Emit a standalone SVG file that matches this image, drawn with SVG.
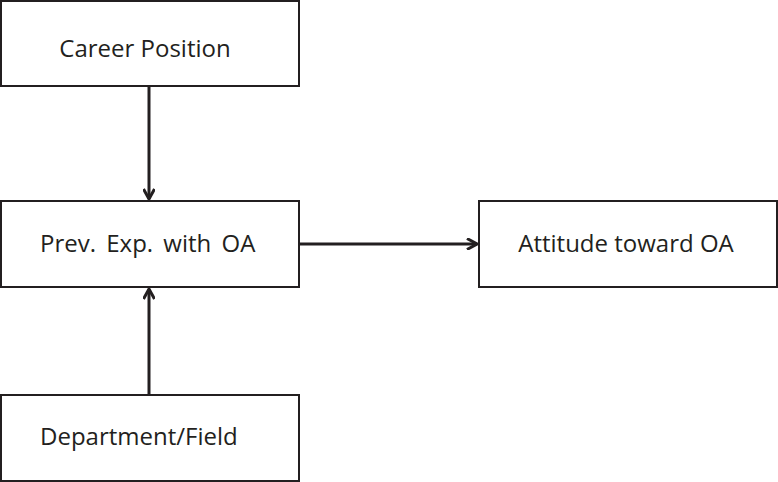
<svg xmlns="http://www.w3.org/2000/svg" width="778" height="482" viewBox="0 0 778 482">
<defs>
<style>
.box{fill:#fff;stroke:#231f20;stroke-width:2}
.t{font-family:"Open Sans","Liberation Sans",sans-serif;font-size:24px;fill:#231f20}
.c{stroke:#231f20;stroke-width:3;fill:none}
</style>
<marker id="a" viewBox="0 0 12 12" refX="11" refY="6" markerWidth="12" markerHeight="12" markerUnits="userSpaceOnUse" orient="auto">
<path d="M1,0.5 L11,6 L1,11.5" fill="none" stroke="#231f20" stroke-width="3"/>
</marker>
</defs>
<g id="career"><rect class="box" x="1" y="1" width="298" height="85"/><text class="t" x="145" y="57" text-anchor="middle">Career Position</text></g>
<g id="prev"><rect class="box" x="1" y="201" width="298" height="86"/><text class="t" x="40" y="252" word-spacing="4">Prev. Exp. with OA</text></g>
<g id="attitude"><rect class="box" x="479" y="201" width="298" height="86"/><text class="t" x="626" y="252" text-anchor="middle">Attitude toward OA</text></g>
<g id="dept"><rect class="box" x="1" y="395" width="298" height="86"/><text class="t" x="40" y="445">Department/Field</text></g>
<g id="connectors">
<line class="c" x1="149" y1="86" x2="149" y2="199" marker-end="url(#a)"/>
<line class="c" x1="299" y1="244" x2="477" y2="244" marker-end="url(#a)"/>
<line class="c" x1="149" y1="395" x2="149" y2="289" marker-end="url(#a)"/>
</g>
</svg>
